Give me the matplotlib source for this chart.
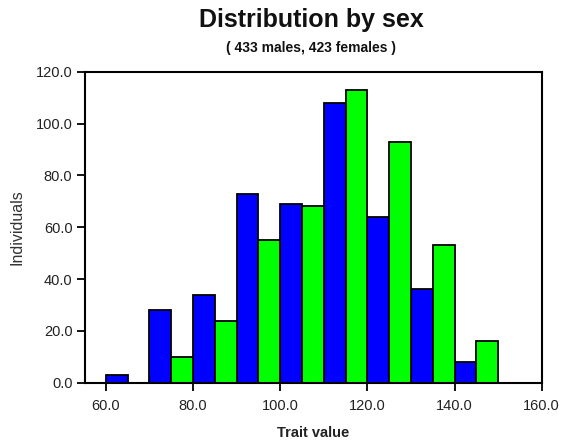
import numpy as np
import matplotlib
matplotlib.use('Agg')
import matplotlib.pyplot as plt

plt.rcParams['font.family'] = ['Liberation Sans', 'DejaVu Sans']

# bin starts (width 10), counts per sex
bins = [60, 70, 80, 90, 100, 110, 120, 130, 140]
blue_counts = [3, 28, 34, 73, 69, 108, 64, 36, 8]
green_counts = [0, 10, 24, 55, 68, 113, 93, 53, 16]
xticks = [60, 80, 100, 120, 140, 160]
yticks = [0, 20, 40, 60, 80, 100, 120]

fig = plt.figure(figsize=(5.63, 4.4), dpi=100)
ax = fig.add_axes([85 / 563, 1 - 382.7 / 440, (541.7 - 85) / 563, (382.7 - 71.7) / 440])

x = np.array(bins, dtype=float)
ax.bar(x, blue_counts, width=5, align='edge', color='#0000ff', edgecolor='black', linewidth=1.3)
ax.bar(x + 5, green_counts, width=5, align='edge', color='#00ff00', edgecolor='black', linewidth=1.3)

ax.set_xlim(55.2, 160)
ax.set_ylim(0, 120)
ax.set_xticks(xticks)
ax.set_xticklabels(['%.1f' % v for v in xticks], fontsize=10.5, color='#222222')
ax.set_yticks(yticks)
ax.set_yticklabels(['%.1f' % v for v in yticks], fontsize=10.5, color='#222222')
ax.tick_params(direction='out', length=6, width=1.3, color='black', pad=3)
ax.tick_params(axis='x', pad=6)
for s in ax.spines.values():
    s.set_linewidth(1.5)

ax.set_xlabel('Trait value', fontsize=10.5, fontweight='bold', color='#222222', labelpad=9)
fig.text(17 / 563, 1 - 227 / 440, 'Individuals', rotation=90, ha='center', va='center',
         fontsize=11.5, color='#333333')

fig.text(0.553, 1 - 20 / 440, 'Distribution by sex', ha='center', va='center',
         fontsize=18, fontweight='bold', color='#111111')
fig.text(0.553, 1 - 48 / 440, '( 433 males, 423 females )', ha='center', va='center',
         fontsize=10, fontweight='bold', color='#111111')

fig.savefig('out.png', dpi=100, facecolor='white')
